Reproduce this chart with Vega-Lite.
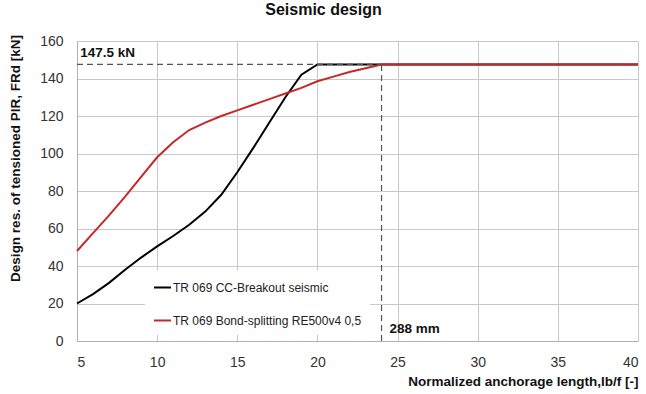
{
  "$schema": "https://vega.github.io/schema/vega-lite/v6.json",
  "width": 561,
  "height": 300,
  "autosize": {"type": "none"},
  "padding": {"left": 77, "top": 41, "right": 8, "bottom": 53},
  "background": "white",
  "title": {
    "text": "Seismic design",
    "font": "Liberation Sans",
    "fontSize": 16,
    "fontWeight": "bold",
    "color": "#111",
    "anchor": "middle",
    "dx": -34,
    "offset": 15
  },
  "config": {
    "font": "Liberation Sans",
    "view": {"stroke": null},
    "axis": {
      "labelFont": "Liberation Sans",
      "labelFontSize": 14,
      "labelColor": "#333",
      "labelOverlap": false,
      "titleFont": "Liberation Sans",
      "titleFontSize": 13.5,
      "titleFontWeight": "bold",
      "titleColor": "#111",
      "gridColor": "#c8c8c8",
      "gridWidth": 1,
      "domainColor": "#b0b0b0",
      "ticks": false
    }
  },
  "layer": [
    {
      "data": {
        "values": [
          {"x": 5, "y": 20, "series": "TR 069 CC-Breakout seismic"},
          {"x": 6, "y": 25, "series": "TR 069 CC-Breakout seismic"},
          {"x": 7, "y": 31, "series": "TR 069 CC-Breakout seismic"},
          {"x": 8, "y": 38, "series": "TR 069 CC-Breakout seismic"},
          {"x": 9, "y": 44.5, "series": "TR 069 CC-Breakout seismic"},
          {"x": 10, "y": 50.5, "series": "TR 069 CC-Breakout seismic"},
          {"x": 11, "y": 56, "series": "TR 069 CC-Breakout seismic"},
          {"x": 12, "y": 62, "series": "TR 069 CC-Breakout seismic"},
          {"x": 13, "y": 69, "series": "TR 069 CC-Breakout seismic"},
          {"x": 14, "y": 78, "series": "TR 069 CC-Breakout seismic"},
          {"x": 15, "y": 90, "series": "TR 069 CC-Breakout seismic"},
          {"x": 16, "y": 103, "series": "TR 069 CC-Breakout seismic"},
          {"x": 17, "y": 116.5, "series": "TR 069 CC-Breakout seismic"},
          {"x": 18, "y": 130, "series": "TR 069 CC-Breakout seismic"},
          {"x": 19, "y": 142, "series": "TR 069 CC-Breakout seismic"},
          {"x": 20, "y": 147.5, "series": "TR 069 CC-Breakout seismic"},
          {"x": 40, "y": 147.5, "series": "TR 069 CC-Breakout seismic"},
          {"x": 5, "y": 48, "series": "TR 069 Bond-splitting RE500v4 0,5"},
          {"x": 6, "y": 57.5, "series": "TR 069 Bond-splitting RE500v4 0,5"},
          {"x": 7, "y": 67, "series": "TR 069 Bond-splitting RE500v4 0,5"},
          {"x": 8, "y": 77, "series": "TR 069 Bond-splitting RE500v4 0,5"},
          {"x": 9, "y": 87.5, "series": "TR 069 Bond-splitting RE500v4 0,5"},
          {"x": 10, "y": 98, "series": "TR 069 Bond-splitting RE500v4 0,5"},
          {"x": 11, "y": 106, "series": "TR 069 Bond-splitting RE500v4 0,5"},
          {"x": 12, "y": 112.5, "series": "TR 069 Bond-splitting RE500v4 0,5"},
          {"x": 13, "y": 116.5, "series": "TR 069 Bond-splitting RE500v4 0,5"},
          {"x": 14, "y": 120, "series": "TR 069 Bond-splitting RE500v4 0,5"},
          {"x": 15, "y": 123, "series": "TR 069 Bond-splitting RE500v4 0,5"},
          {"x": 16, "y": 126, "series": "TR 069 Bond-splitting RE500v4 0,5"},
          {"x": 17, "y": 129, "series": "TR 069 Bond-splitting RE500v4 0,5"},
          {"x": 18, "y": 132, "series": "TR 069 Bond-splitting RE500v4 0,5"},
          {"x": 19, "y": 135, "series": "TR 069 Bond-splitting RE500v4 0,5"},
          {"x": 20, "y": 138.5, "series": "TR 069 Bond-splitting RE500v4 0,5"},
          {"x": 21, "y": 141, "series": "TR 069 Bond-splitting RE500v4 0,5"},
          {"x": 22, "y": 143.5, "series": "TR 069 Bond-splitting RE500v4 0,5"},
          {"x": 23, "y": 145.5, "series": "TR 069 Bond-splitting RE500v4 0,5"},
          {"x": 24, "y": 147.5, "series": "TR 069 Bond-splitting RE500v4 0,5"},
          {"x": 40, "y": 147.5, "series": "TR 069 Bond-splitting RE500v4 0,5"}
        ]
      },
      "mark": {"type": "line", "strokeWidth": 2},
      "encoding": {
        "x": {
          "field": "x",
          "type": "quantitative",
          "scale": {"domain": [5, 40], "nice": false, "zero": false},
          "axis": {
            "values": [5, 10, 15, 20, 25, 30, 35, 40],
            "tickCount": 20,
            "labelPadding": 14,
            "title": "Normalized anchorage length,lb/f [-]",
            "titleAnchor": "end",
            "titlePadding": 5
          }
        },
        "y": {
          "field": "y",
          "type": "quantitative",
          "scale": {"domain": [0, 160], "nice": false},
          "axis": {
            "values": [0, 20, 40, 60, 80, 100, 120, 140, 160],
            "tickCount": 20,
            "labelPadding": 14,
            "title": "Design res. of  tensioned PIR, FRd [kN]",
            "titleX": -62,
            "titleY": 117,
            "titleAngle": 270,
            "titleAlign": "center",
            "titleBaseline": "middle"
          }
        },
        "color": {
          "field": "series",
          "type": "nominal",
          "scale": {
            "domain": ["TR 069 CC-Breakout seismic", "TR 069 Bond-splitting RE500v4 0,5"],
            "range": ["#000000", "#c62828"]
          },
          "legend": {
            "title": null,
            "orient": "none",
            "legendX": 68,
            "legendY": 229,
            "fillColor": "white",
            "padding": 8,
            "symbolType": "stroke",
            "symbolSize": 289,
            "symbolStrokeWidth": 2,
            "rowPadding": 17,
            "labelFont": "Liberation Sans",
            "labelFontSize": 12,
            "labelColor": "#222",
            "labelOffset": 1,
            "labelLimit": 300
          }
        }
      }
    },
    {
      "data": {
        "values": [
          {"x": 5, "x2": 24, "y": 147.5, "y2": 147.5},
          {"x": 24, "x2": 24, "y": 0, "y2": 147.5}
        ]
      },
      "mark": {"type": "rule", "color": "#555", "strokeWidth": 1.2, "strokeDash": [6, 4]},
      "encoding": {
        "x": {"field": "x", "type": "quantitative"},
        "x2": {"field": "x2"},
        "y": {"field": "y", "type": "quantitative"},
        "y2": {"field": "y2"}
      }
    },
    {
      "data": {
        "values": [
          {"x": 5.2, "y": 153.6, "label": "147.5 kN"},
          {"x": 24.5, "y": 6.4, "label": "288 mm"}
        ]
      },
      "mark": {"type": "text", "align": "left", "baseline": "middle", "fontSize": 13.5, "fontWeight": "bold", "color": "#111", "font": "Liberation Sans"},
      "encoding": {
        "x": {"field": "x", "type": "quantitative"},
        "y": {"field": "y", "type": "quantitative"},
        "text": {"field": "label"}
      }
    }
  ]
}
